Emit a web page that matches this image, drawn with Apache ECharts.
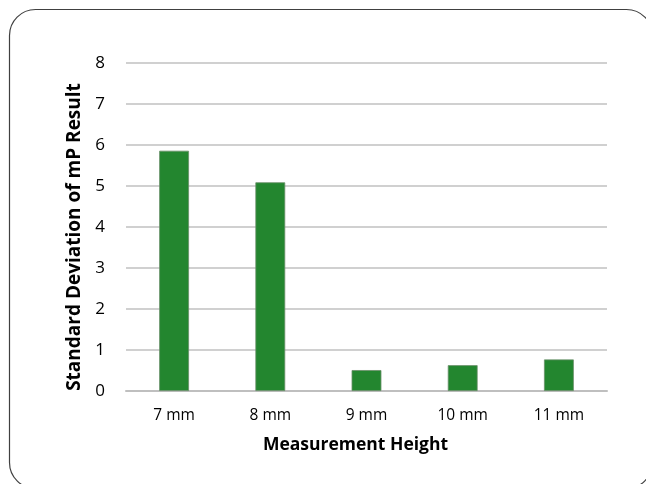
<!DOCTYPE html>
<html>
<head>
<meta charset="utf-8">
<script src="https://cdn.jsdelivr.net/npm/echarts@6/dist/echarts.min.js"></script>
<style>
html,body{margin:0;padding:0;background:#fff;}
#chart{width:646px;height:484px;}
</style>
</head>
<body>
<div id="chart"></div>
<script>
const categories = ['7 mm', '8 mm', '9 mm', '10 mm', '11 mm'];
const stdDev = [5.86, 5.09, 0.51, 0.63, 0.77];
const yTicks = [0, 1, 2, 3, 4, 5, 6, 7, 8];

const chart = echarts.init(document.getElementById('chart'));
const font = 'Open Sans, Noto Sans, sans-serif';
chart.setOption({
  animation: false,
  backgroundColor: '#fff',
  graphic: [{
    type: 'rect',
    shape: { x: 9.5, y: 9.5, width: 643, height: 479, r: 26 },
    style: { fill: 'none', stroke: '#404040', lineWidth: 1.2 },
    silent: true
  }],
  grid: { left: 126, right: 39, top: 63, bottom: 93, containLabel: false },
  xAxis: {
    type: 'category',
    data: categories,
    name: 'Measurement Height',
    nameLocation: 'middle',
    nameGap: 45,
    nameTextStyle: { fontFamily: font, fontWeight: 'bold', fontSize: 17.5, color: '#000', padding: [0, 22, 0, 0] },
    axisLine: { lineStyle: { color: '#bfbfbf', width: 2 } },
    axisTick: { show: false },
    axisLabel: { fontFamily: font, fontSize: 15.5, color: '#000', margin: 17 }
  },
  yAxis: {
    type: 'value',
    min: yTicks[0],
    max: yTicks[yTicks.length - 1],
    interval: 1,
    name: 'Standard Deviation of mP Result',
    nameLocation: 'middle',
    nameRotate: 90,
    nameGap: 42,
    nameTextStyle: { fontFamily: font, fontWeight: 'bold', fontSize: 19, color: '#000', padding: [0, 20, 0, 0] },
    axisLine: { show: false },
    axisTick: { show: false },
    axisLabel: { fontFamily: font, fontSize: 17, color: '#000', margin: 21 },
    splitLine: { lineStyle: { color: '#c0c0c0', width: 1.5 } }
  },
  series: [{
    type: 'bar',
    data: stdDev,
    barWidth: '31%',
    itemStyle: { color: '#23862f', borderColor: '#6a8f6a', borderWidth: 0.8 }
  }]
});
</script>
</body>
</html>
